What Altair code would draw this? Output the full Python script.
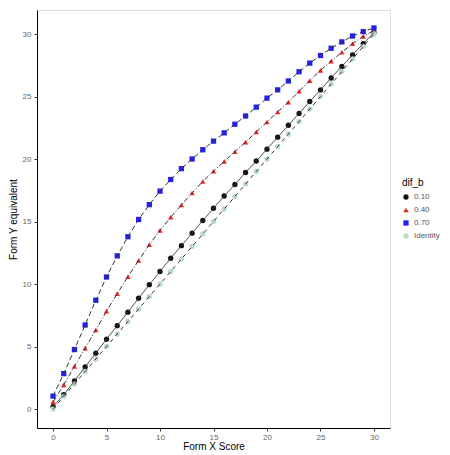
import altair as alt
import pandas as pd

scores = list(range(31))
y_010 = [0.19, 1.14, 2.25, 3.36, 4.47, 5.58, 6.67, 7.75, 8.86, 9.95, 11.0, 12.06, 13.07, 14.07, 15.08,
         16.06, 17.04, 17.96, 18.92, 19.84, 20.79, 21.75, 22.7, 23.65, 24.6, 25.53, 26.48, 27.41, 28.33, 29.23, 30.13]
y_040 = [0.56, 1.93, 3.41, 4.87, 6.32, 7.83, 9.23, 10.58, 11.88, 13.15, 14.29, 15.34, 16.32, 17.28, 18.2,
         19.02, 19.81, 20.58, 21.35, 22.17, 22.96, 23.76, 24.55, 25.42, 26.27, 27.09, 27.83, 28.54, 29.23, 29.81, 30.26]
y_070 = [1.03, 2.83, 4.76, 6.72, 8.7, 10.56, 12.25, 13.78, 15.16, 16.35, 17.43, 18.36, 19.23, 20.0, 20.74,
         21.43, 22.09, 22.78, 23.44, 24.15, 24.87, 25.53, 26.24, 26.98, 27.67, 28.28, 28.86, 29.37, 29.84, 30.19, 30.48]
y_identity = [float(s) for s in scores]

series_names = ["0.10", "0.40", "0.70", "Identity"]
series_values = [y_010, y_040, y_070, y_identity]
series_colors = ["#111111", "#ee2222", "#2222ee", "#b8dcc4"]
series_shapes = ["circle", "triangle-up", "square", "circle"]
series_dash = [[1, 0], [5, 2, 1, 2], [5, 3], [4, 4]]

rows = []
for name, vals in zip(series_names, series_values):
    for s, v in zip(scores, vals):
        rows.append({"score": s, "equiv": v, "dif_b": name})
df = pd.DataFrame(rows)

font = "Liberation Sans"
xs = alt.X("score:Q", title="Form X Score",
           scale=alt.Scale(domain=[-1.5, 31.5], nice=False, zero=False),
           axis=alt.Axis(values=[0, 5, 10, 15, 20, 25, 30], grid=False, domainColor="#000000",
                         tickColor="#333333", tickSize=3, labelColor="#666666", labelFontSize=8,
                         labelFont=font, titleFont=font, titleFontSize=10, titleFontWeight="normal",
                         titleColor="#000000", labelPadding=2, titlePadding=0))
ys = alt.Y("equiv:Q", title="Form Y equivalent",
           scale=alt.Scale(domain=[-1.52, 31.92], nice=False, zero=False),
           axis=alt.Axis(values=[0, 5, 10, 15, 20, 25, 30], grid=False, domainColor="#000000",
                         tickColor="#333333", tickSize=3, labelColor="#666666", labelFontSize=8,
                         labelFont=font, titleFont=font, titleFontSize=10, titleFontWeight="normal",
                         titleColor="#000000", labelPadding=3, titlePadding=4))

legend = alt.Legend(title="dif_b", orient="none", legendX=365, legendY=168,
                    titleFont=font, titleFontSize=10, titleFontWeight="normal", titleColor="#000000",
                    labelFont=font, labelFontSize=8, labelColor="#555555", rowPadding=5,
                    symbolSize=28)

color = alt.Color("dif_b:N", scale=alt.Scale(domain=series_names, range=series_colors), legend=legend)
shape = alt.Shape("dif_b:N", scale=alt.Scale(domain=series_names, range=series_shapes), legend=legend)
dash = alt.StrokeDash("dif_b:N", scale=alt.Scale(domain=series_names, range=series_dash), legend=legend)

lines = alt.Chart(df).mark_line(strokeWidth=1, color="#333333").encode(
    x=xs, y=ys, strokeDash=dash, detail="dif_b:N")
points = alt.Chart(df).mark_point(filled=True, size=28, opacity=1).encode(
    x=xs, y=ys, color=color, shape=shape)

chart = alt.layer(points, lines).properties(
    width=353, height=418,
    padding={"left": 29, "top": 2, "right": 52, "bottom": 28},
    autosize=alt.AutoSizeParams(type="none"),
).configure_view(stroke=None).configure(background="white")

chart.save("out.html", embed_options={"renderer": "svg", "actions": False})
